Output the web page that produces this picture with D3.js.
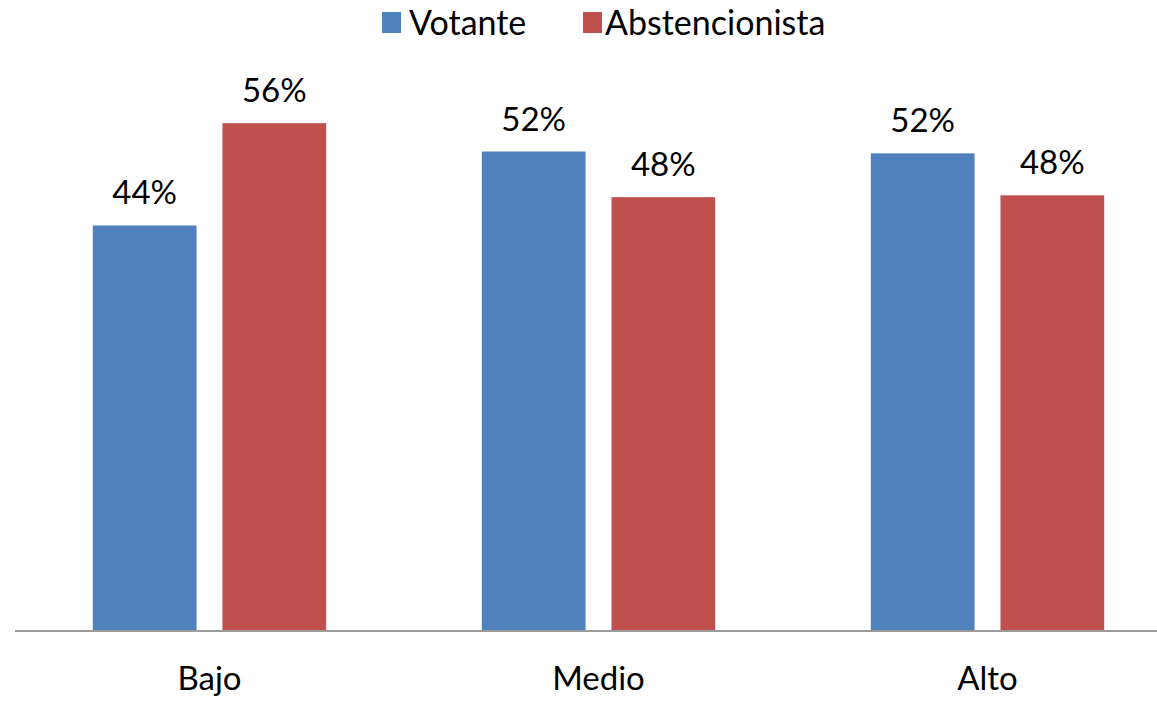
<!DOCTYPE html>
<html><head><meta charset="utf-8">
<script src="https://cdn.jsdelivr.net/npm/d3@7"></script>
<style>body{margin:0;background:#fff}svg{display:block}text{font-family:Lato,"Open Sans",sans-serif;fill:#000}</style>
</head><body>
<script>
const categories = ["Bajo", "Medio", "Alto"];
const seriesNames = ["Votante", "Abstencionista"];
const votante = [44.4, 52.5, 52.3];
const abstencionista = [55.6, 47.5, 47.7];
const labelsVotante = ["44%", "52%", "52%"];
const labelsAbst = ["56%", "48%", "48%"];
const colors = ["#4F81BD", "#C0504D"];

const W = 1157, H = 701;
const svg = d3.select("body").append("svg").attr("width", W).attr("height", H);

const x0 = d3.scaleBand().domain(categories).range([15, 1182]).paddingInner(0.4).paddingOuter(0.2);
const x1 = d3.scaleBand().domain(seriesNames).range([0, x0.bandwidth()]).paddingInner(0.2);
const y = d3.scaleLinear().domain([0, 60]).range([631, 83]);

const data = [votante, abstencionista];
const labels = [labelsVotante, labelsAbst];

seriesNames.forEach((s, si) => {
  const g = svg.append("g");
  g.selectAll("rect").data(categories).join("rect")
    .attr("x", (c) => x0(c) + x1(s))
    .attr("y", (c, i) => y(data[si][i]))
    .attr("width", x1.bandwidth())
    .attr("height", (c, i) => y(0) - y(data[si][i]))
    .attr("fill", colors[si]);
  g.selectAll("text").data(categories).join("text")
    .attr("x", (c) => x0(c) + x1(s) + x1.bandwidth() / 2)
    .attr("y", (c, i) => y(data[si][i]) - 21)
    .attr("text-anchor", "middle")
    .attr("font-size", 33)
    .text((c, i) => labels[si][i]);
});

const xAxis = svg.append("g").attr("transform", `translate(0,${y(0)})`)
  .call(d3.axisBottom(x0).tickSize(0).tickPadding(36));
xAxis.select(".domain").attr("stroke", "#9a9a9a").attr("stroke-width", 2).attr("d", "M15,0H1157");
xAxis.selectAll("text").attr("font-size", 33).attr("font-family", "Lato, 'Open Sans', sans-serif").attr("fill", "#000");

// Legend
const legend = svg.append("g");
const legendX = [382, 583];
const legendTextX = [409, 605];
seriesNames.forEach((s, i) => {
  legend.append("rect").attr("x", legendX[i]).attr("y", 12).attr("width", 19).attr("height", 21).attr("fill", colors[i]);
  legend.append("text").attr("x", legendTextX[i]).attr("y", 35).attr("font-size", 34).text(s);
});
</script>
</body></html>
